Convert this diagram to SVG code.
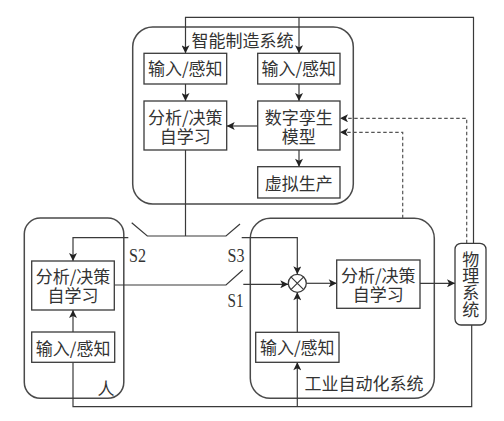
<svg xmlns="http://www.w3.org/2000/svg" width="504" height="421" viewBox="0 0 504 421">
<style>
.frame{fill:none;stroke:#4a4a4a;stroke-width:1.5}
.box{fill:#fff;stroke:#3a3a3a;stroke-width:1.3}
.ln{fill:none;stroke:#3a3a3a;stroke-width:1.2}
.dash{fill:none;stroke:#555;stroke-width:1.2;stroke-dasharray:3.5,2.5}
.t{font-family:"Noto Sans CJK SC","Noto Sans",sans-serif;font-size:17px;fill:#333;text-anchor:middle}
.v{font-family:"Noto Sans CJK SC","Noto Sans",sans-serif;font-size:17px;fill:#333;text-anchor:middle;writing-mode:vertical-rl;letter-spacing:-0.3px}
.s{font-family:"Liberation Serif","Times New Roman",serif;font-size:19px;fill:#333}
</style>
<defs>
<marker id="ah" viewBox="0 0 10 10" refX="10" refY="5" markerWidth="9" markerHeight="8" markerUnits="userSpaceOnUse" orient="auto">
<path d="M0,0 L10,5 L0,10 L2.5,5 z" fill="#222"/>
</marker>
</defs>
<rect width="504" height="421" fill="#fff"/>

<g id="smart-system">
<rect class="frame" x="132.7" y="27" width="220.6" height="177" rx="20"/>
<text class="t" x="242.5" y="47.3">智能制造系统</text>
</g>
<g id="human">
<rect class="frame" x="24.3" y="218" width="99.5" height="180.3" rx="16"/>
<text class="t" x="106" y="394.8">人</text>
</g>
<g id="industrial-system">
<rect class="frame" x="250.3" y="218.3" width="184" height="180" rx="20"/>
<text class="t" x="363.9" y="389.8">工业自动化系统</text>
</g>

<g id="connectors">
<path class="ln" d="M473.5,243.3 V17.3 H185.5 V53.3" marker-end="url(#ah)"/>
<path class="ln" d="M299,17.3 V53.3" marker-end="url(#ah)"/>
<path class="ln" d="M185.5,84 V101" marker-end="url(#ah)"/>
<path class="ln" d="M299,84 V101" marker-end="url(#ah)"/>
<path class="ln" d="M257.7,126 H226.7" marker-end="url(#ah)"/>
<path class="ln" d="M299,150 V166.7" marker-end="url(#ah)"/>
<path class="ln" d="M185.5,150 V236"/>
<path class="ln" d="M131.7,222.7 L147.3,236 H226 L240,224"/>
<path class="ln" d="M128.3,237.7 H73 V261" marker-end="url(#ah)"/>
<path class="ln" d="M241.7,237.7 H297.3 V274.3" marker-end="url(#ah)"/>
<path class="ln" d="M114.3,285 H226 L242.7,270"/>
<path class="ln" d="M243.3,284.3 H288.3" marker-end="url(#ah)"/>
<path class="ln" d="M73,332 V310" marker-end="url(#ah)"/>
<path class="ln" d="M73,362.3 V406.7 H471.7 V325"/>
<path class="ln" d="M297.3,406.7 V362.3" marker-end="url(#ah)"/>
<path class="ln" d="M297.3,332.3 V292.3" marker-end="url(#ah)"/>
<path class="ln" d="M306.3,283.3 H336.7" marker-end="url(#ah)"/>
<path class="ln" d="M420,283.3 H455" marker-end="url(#ah)"/>
<path class="dash" d="M466.7,243.3 V118.3 H340" marker-end="url(#ah)"/>
<path class="dash" d="M402.7,218.3 V132.3 H340" marker-end="url(#ah)"/>
<text class="s" x="129" y="261.7" textLength="17" lengthAdjust="spacingAndGlyphs">S2</text>
<text class="s" x="227.5" y="261.7" textLength="17" lengthAdjust="spacingAndGlyphs">S3</text>
<text class="s" x="227.5" y="306.7" textLength="16" lengthAdjust="spacingAndGlyphs">S1</text>
</g>

<g id="smart-input-left">
<rect class="box" x="144" y="53.3" width="82.7" height="30.7"/>
<text class="t" x="185.3" y="75.2">输入/感知</text>
</g>
<g id="smart-input-right">
<rect class="box" x="257.7" y="53.3" width="82.3" height="30.7"/>
<text class="t" x="298.8" y="75.2">输入/感知</text>
</g>
<g id="smart-analysis">
<rect class="box" x="144" y="101" width="82.7" height="49"/>
<text class="t" x="185.3" y="123.5">分析/决策<tspan x="185.3" dy="19">自学习</tspan></text>
</g>
<g id="digital-twin">
<rect class="box" x="257.7" y="101" width="82.3" height="49"/>
<text class="t" x="298.8" y="123.5">数字孪生<tspan x="298.8" dy="19">模型</tspan></text>
</g>
<g id="virtual-production">
<rect class="box" x="257.7" y="166.7" width="82.3" height="31.3"/>
<text class="t" x="298.8" y="190.3">虚拟生产</text>
</g>
<g id="human-analysis">
<rect class="box" x="31.7" y="261" width="82.6" height="49"/>
<text class="t" x="73" y="282.8">分析/决策<tspan x="73" dy="19">自学习</tspan></text>
</g>
<g id="human-input">
<rect class="box" x="31.7" y="332" width="83" height="30.3"/>
<text class="t" x="73.2" y="354.5">输入/感知</text>
</g>
<g id="multiplier">
<circle cx="297.3" cy="283.3" r="9" fill="#fff" stroke="#3a3a3a" stroke-width="1.3"/>
<path class="ln" d="M290.9,276.9 L303.7,289.7 M303.7,276.9 L290.9,289.7"/>
</g>
<g id="industrial-analysis">
<rect class="box" x="336.7" y="260" width="83.3" height="48.3"/>
<text class="t" x="378.3" y="281.8">分析/决策<tspan x="378.3" dy="19">自学习</tspan></text>
</g>
<g id="industrial-input">
<rect class="box" x="255.7" y="332.3" width="83.3" height="30"/>
<text class="t" x="297.3" y="354">输入/感知</text>
</g>
<g id="physical-system">
<rect class="box" x="455" y="243.3" width="31" height="81.7" rx="6"/>
<text class="v" x="470.7" y="284.2">物理系统</text>
</g>
</svg>
